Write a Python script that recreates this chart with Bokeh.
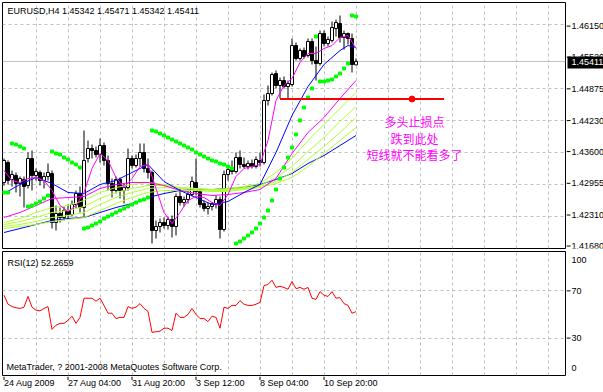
from bokeh.plotting import figure
from bokeh.layouts import column, row
from bokeh.models import Range1d, FixedTicker, Grid, Span, Label
from bokeh.core.properties import value
from bokeh.embed import file_html
from bokeh.resources import INLINE

FONT = "Liberation Sans"

# ---------------- data ----------------
bars = list(range(89))
opens = [1.4299, 1.4339, 1.4305, 1.4313, 1.4297, 1.4305, 1.4293, 1.4347, 1.4313, 1.4319,
         1.4303, 1.4311, 1.4317, 1.4219, 1.4237, 1.4229, 1.4243, 1.4235, 1.4255, 1.4277,
         1.4249, 1.4347, 1.4367, 1.4363, 1.4355, 1.4373, 1.4343, 1.4297, 1.4283, 1.4305,
         1.4283, 1.4289, 1.4347, 1.4333, 1.4347, 1.4359, 1.4327, 1.4319, 1.4203, 1.4211,
         1.4219, 1.4213, 1.4225, 1.4211, 1.4271, 1.4259, 1.4265, 1.4275, 1.4299, 1.4281,
         1.4257, 1.4247, 1.4251, 1.4255, 1.4265, 1.4205, 1.4315, 1.4327, 1.4321, 1.4349,
         1.4335, 1.4331, 1.4337, 1.4331, 1.4343, 1.4339, 1.4463, 1.4477, 1.4517, 1.4493,
         1.4503, 1.4491, 1.4495, 1.4573, 1.4547, 1.4563, 1.4553, 1.4581, 1.4543, 1.4537,
         1.4597, 1.4577, 1.4583, 1.4607, 1.4617, 1.4589, 1.4597, 1.4587, 1.45342]
highs = [1.4347, 1.4343, 1.4323, 1.4319, 1.4311, 1.4311, 1.4359, 1.4363, 1.4327, 1.4323,
         1.4319, 1.4337, 1.4323, 1.4253, 1.4249, 1.4251, 1.4255, 1.4263, 1.4283, 1.4291,
         1.4403, 1.4383, 1.4375, 1.4371, 1.4387, 1.4379, 1.4353, 1.4307, 1.4311, 1.4309,
         1.4297, 1.4367, 1.4353, 1.4355, 1.4377, 1.4377, 1.4347, 1.4323, 1.4223, 1.4227,
         1.4229, 1.4231, 1.4233, 1.4277, 1.4287, 1.4271, 1.4285, 1.4311, 1.4347, 1.4287,
         1.4263, 1.4259, 1.4259, 1.4273, 1.4271, 1.4323, 1.4333, 1.4343, 1.4359, 1.4363,
         1.4349, 1.4343, 1.4345, 1.4351, 1.4359, 1.4475, 1.4493, 1.4519, 1.4523, 1.4509,
         1.4511, 1.4503, 1.4587, 1.4579, 1.4567, 1.4569, 1.4587, 1.4587, 1.4571, 1.4603,
         1.4603, 1.4591, 1.4621, 1.4625, 1.4633, 1.4603, 1.4599, 1.4597, 1.45471]
lows = [1.4293, 1.4295, 1.4291, 1.4279, 1.4271, 1.4249, 1.4287, 1.4283, 1.4303, 1.4293,
        1.4287, 1.4303, 1.4207, 1.4203, 1.4219, 1.4223, 1.4227, 1.4231, 1.4247, 1.4239,
        1.4229, 1.4339, 1.4347, 1.4349, 1.4339, 1.4333, 1.4283, 1.4269, 1.4277, 1.4267,
        1.4257, 1.4283, 1.4327, 1.4329, 1.4331, 1.4319, 1.4307, 1.4177, 1.4187, 1.4199,
        1.4207, 1.4205, 1.4189, 1.4193, 1.4253, 1.4251, 1.4257, 1.4271, 1.4273, 1.4249,
        1.4241, 1.4235, 1.4243, 1.4247, 1.4187, 1.4201, 1.4303, 1.4315, 1.4317, 1.4327,
        1.4327, 1.4325, 1.4327, 1.4327, 1.4331, 1.4335, 1.4453, 1.4473, 1.4487, 1.4467,
        1.4487, 1.4467, 1.4491, 1.4543, 1.4543, 1.4547, 1.4549, 1.4535, 1.4503, 1.4533,
        1.4571, 1.4571, 1.4579, 1.4591, 1.4579, 1.4565, 1.4575, 1.4519, 1.45342]
closes = [1.4343, 1.4303, 1.4315, 1.4297, 1.4307, 1.4291, 1.4347, 1.4313, 1.4321, 1.4303,
          1.4311, 1.4319, 1.4219, 1.4237, 1.4229, 1.4243, 1.4235, 1.4255, 1.4277, 1.4249,
          1.4343, 1.4367, 1.4363, 1.4355, 1.4373, 1.4343, 1.4297, 1.4283, 1.4305, 1.4283,
          1.4289, 1.4347, 1.4333, 1.4347, 1.4359, 1.4327, 1.4319, 1.4203, 1.4211, 1.4219,
          1.4213, 1.4225, 1.4211, 1.4271, 1.4259, 1.4265, 1.4275, 1.4301, 1.4281, 1.4255,
          1.4247, 1.4251, 1.4257, 1.4265, 1.4205, 1.4315, 1.4325, 1.4321, 1.4349, 1.4335,
          1.4331, 1.4337, 1.4331, 1.4345, 1.4339, 1.4463, 1.4477, 1.4515, 1.4493, 1.4503,
          1.4491, 1.4497, 1.4573, 1.4547, 1.4563, 1.4551, 1.4581, 1.4543, 1.4537, 1.4597,
          1.4577, 1.4585, 1.4609, 1.4619, 1.4589, 1.4597, 1.4587, 1.4535, 1.45411]

# Parabolic SAR dots
sar = [1.4279, 1.4279, 1.4377, 1.4375, 1.4371, 1.4367, 1.4251, 1.4253, 1.4257, 1.4261,
       1.4267, 1.4273, 1.4361, 1.4357, 1.4355, 1.4349, 1.4345, 1.4339, 1.4335, 1.4329,
       1.4207, 1.4209, 1.4213, 1.4217, 1.4221, 1.4227, 1.4231, 1.4235, 1.4239, 1.4243,
       1.4247, 1.4251, 1.4255, 1.4259, 1.4263, 1.4265, 1.4269, 1.4403, 1.4401, 1.4397,
       1.4393, 1.4389, 1.4385, 1.4381, 1.4377, 1.4373, 1.4369, 1.4365, 1.4359, 1.4355,
       1.4351, 1.4347, 1.4343, 1.4341, 1.4337, 1.4335, 1.4331, 1.4327, 1.4177, 1.4181,
       1.4187, 1.4193, 1.4199, 1.4207, 1.4217, 1.4229, 1.4243, 1.4263, 1.4285, 1.4307,
       1.4329, 1.4349, 1.4369, 1.4395, 1.4423, 1.4449, 1.4469, 1.4487, 1.4591, 1.4501,
       1.4501, 1.4503, 1.4505, 1.4511, 1.4517, 1.4527, 1.4537, 1.4633, 1.4631]

# moving averages
ma_fast_bars = list(range(0, 89, 2))
ma_fast = [1.4323, 1.4303, 1.4299, 1.4307, 1.4309, 1.4303, 1.4283, 1.4253, 1.4241, 1.4253,
           1.4279, 1.4327, 1.4357, 1.4343, 1.4309, 1.4289, 1.4307, 1.4331, 1.4335, 1.4287,
           1.4239, 1.4217, 1.4239, 1.4263, 1.4271, 1.4269, 1.4259, 1.4253, 1.4275, 1.4311,
           1.4327, 1.4331, 1.4335, 1.4383, 1.4463, 1.4493, 1.4507, 1.4539, 1.4557, 1.4557,
           1.4567, 1.4573, 1.4589, 1.4593, 1.4567]

blue_fast_bars = [0, 4, 8, 12, 16, 20, 24, 28, 32, 36, 40, 44, 48, 52, 56, 60, 64, 68,
                  72, 76, 80, 84, 86, 88]
blue_fast = [1.4277, 1.4295, 1.4309, 1.4297, 1.4279, 1.4277, 1.4295, 1.4303, 1.4319, 1.4335,
             1.4301, 1.4283, 1.4269, 1.4255, 1.4261, 1.4279, 1.4295, 1.4359, 1.4433, 1.4491,
             1.4535, 1.4563, 1.4573, 1.4569]

slow_bars = list(range(0, 89, 4))
magenta_slow = [1.4229, 1.4239, 1.4253, 1.4267, 1.4269, 1.4271, 1.4287, 1.4295, 1.4299, 1.4299,
                1.4293, 1.4283, 1.4277, 1.4273, 1.4275, 1.4279, 1.4285, 1.4307, 1.4357, 1.4399,
                1.4429, 1.4467, 1.4503]
yellow_1 = [1.4219, 1.4227, 1.4239, 1.4249, 1.4253, 1.4263, 1.4279, 1.4289, 1.4295, 1.4299,
            1.4295, 1.4289, 1.4287, 1.4285, 1.4287, 1.4291, 1.4297, 1.4319, 1.4347, 1.4383,
            1.4415, 1.4447, 1.4479]
yellow_2 = [1.4215, 1.4221, 1.4229, 1.4239, 1.4243, 1.4251, 1.4267, 1.4279, 1.4287, 1.4293,
            1.4293, 1.4289, 1.4287, 1.4285, 1.4285, 1.4289, 1.4293, 1.4309, 1.4331, 1.4361,
            1.4389, 1.4421, 1.4451]
yellow_3 = [1.4211, 1.4215, 1.4221, 1.4229, 1.4233, 1.4239, 1.4255, 1.4269, 1.4279, 1.4287,
            1.4289, 1.4287, 1.4285, 1.4283, 1.4283, 1.4287, 1.4291, 1.4301, 1.4319, 1.4345,
            1.4371, 1.4399, 1.4429]
yellow_4 = [1.4207, 1.4211, 1.4215, 1.4221, 1.4225, 1.4229, 1.4243, 1.4257, 1.4269, 1.4279,
            1.4283, 1.4283, 1.4283, 1.4281, 1.4281, 1.4285, 1.4289, 1.4297, 1.4309, 1.4331,
            1.4357, 1.4383, 1.4409]
blue_slow = [1.4199, 1.4207, 1.4215, 1.4223, 1.4227, 1.4229, 1.4239, 1.4249, 1.4257, 1.4269,
             1.4277, 1.4283, 1.4285, 1.4285, 1.4287, 1.4289, 1.4295, 1.4305, 1.4317, 1.4337,
             1.4353, 1.4373, 1.4393]

# RSI(12)
rsi = [66, 58.5, 56.5, 55.5, 55, 56, 65, 56, 53.5, 53,
       55, 56.5, 37.5, 41, 42.5, 42.5, 45, 48.5, 42.5, 47.5,
       63.5, 63.5, 63.5, 61, 63.5, 57.5, 51, 51, 46.5, 47.5,
       47.5, 56.5, 55, 56, 59, 55, 52.5, 35, 35.5, 36,
       38.5, 38.5, 36.5, 51, 47.5, 47.5, 50, 55, 50, 46.5,
       46.5, 44, 48.5, 47.5, 38.5, 56, 55, 57.5, 57.5, 61.5,
       58.5, 57.5, 57.5, 58.5, 60, 74, 75, 78.5, 72.5, 73.5,
       72.5, 71, 77.5, 71.5, 72.5, 71, 72.5, 63.5, 62.5, 69,
       66, 65, 69, 63.5, 64, 59, 57.5, 51, 52.2659]

# stop-loss line and marker
stop_line_bars = [69, 110]
stop_price = 1.4466
stop_dot_bar = 102
bid_price = 1.45411
bid_label = "1.45411"

title_text = "EURUSD,H4  1.45342 1.45471 1.45342 1.45411"
rsi_title = "RSI(12) 52.2659"
copyright_text = "MetaTrader, ? 2001-2008 MetaQuotes Software Corp."
note_lines = ["多头止损点", "跌到此处", "短线就不能看多了"]
x_tick_bars = [0, 16, 32, 48, 64, 80]
x_tick_labels = ["24 Aug 2009", "27 Aug 04:00", "31 Aug 20:00", "3 Sep 12:00",
                 "8 Sep 04:00", "10 Sep 20:00"]
price_ticks = [1.41680, 1.42310, 1.42955, 1.43600, 1.44230, 1.44875, 1.45520, 1.46150]
price_tick_labels = ["1.41680", "1.42310", "1.42955", "1.43600", "1.44230", "1.44875",
                     "1.45520", "1.46150"]
price_grid = [1.42310, 1.42955, 1.43600, 1.44230, 1.44875, 1.46150]
rsi_levels = [30, 70]
grid_bars = list(range(8, 141, 8))

# ---------------- helpers ----------------
GRID_COLOR = "#C0C0C0"
X_RANGE = Range1d(-0.375, 140.375)


def base_fig(**kw):
    p = figure(toolbar_location=None, output_backend="svg",
               x_axis_location=None, y_axis_location=None, **kw)
    p.background_fill_color = "white"
    p.border_fill_color = "white"
    p.grid.visible = False
    return p


def add_grids(p, hticks):
    p.add_layout(Grid(dimension=0, ticker=FixedTicker(ticks=grid_bars),
                      grid_line_color=GRID_COLOR, grid_line_dash="3 3"))
    p.add_layout(Grid(dimension=1, ticker=FixedTicker(ticks=hticks),
                      grid_line_color=GRID_COLOR, grid_line_dash="3 3"))


TXT = dict(text_font=value(FONT), text_font_size=value("9px"), text_color="black")

# ---------------- main price panel ----------------
p1 = base_fig(width=566, height=250, x_range=X_RANGE, y_range=Range1d(1.4167, 1.4659),
              min_border_left=2, min_border_right=1, min_border_top=2, min_border_bottom=2)
p1.outline_line_color = "black"
add_grids(p1, price_grid)
p1.add_layout(Span(location=bid_price, dimension="width", line_color=GRID_COLOR,
                   line_width=1, level="underlay"))

tops = [max(o, c) for o, c in zip(opens, closes)]
bottoms = [min(o, c) for o, c in zip(opens, closes)]
fills = ["white" if c >= o else "black" for o, c in zip(opens, closes)]
p1.segment(x0=bars, y0=lows, x1=bars, y1=highs, line_color="black", line_width=1)
p1.vbar(x=bars, top=tops, bottom=bottoms, width=0.75, fill_color=fills,
        line_color="black", line_width=1)

for series, col in [(blue_slow, "#0000FF"), (yellow_4, "#ADFF2F"), (yellow_3, "#ADFF2F"),
                    (yellow_2, "#ADFF2F"), (yellow_1, "#ADFF2F"), (magenta_slow, "#FF00FF")]:
    p1.line(slow_bars, series, line_color=col, line_width=1)
p1.line(blue_fast_bars, blue_fast, line_color="#0000FF", line_width=1)
p1.line(ma_fast_bars, ma_fast, line_color="#FF00FF", line_width=1)

p1.scatter(bars, sar, marker="square", size=3, fill_color="#00FF00", line_color="#00FF00")

p1.line(stop_line_bars, [stop_price, stop_price], line_color="#FF0000", line_width=2)
p1.scatter([stop_dot_bar], [stop_price], marker="circle", size=6,
           fill_color="#FF0000", line_color="#FF0000")

p1.add_layout(Label(x=0.875, y=1.4642, text=title_text, text_font=FONT,
                    text_font_size="9px", text_color="black", text_baseline="middle",
                    text_align="left"))
for txt, yy in zip(note_lines, [1.4421, 1.4388, 1.4355]):
    p1.add_layout(Label(x=102.6, y=yy, text=txt, text_font="Noto Sans CJK SC",
                        text_font_size="12px", text_color="#FF00FF",
                        text_align="center", text_baseline="middle"))

# price scale (right of main panel), same 0.0002/px scale as the main panel
s1 = base_fig(width=37, height=250, x_range=Range1d(0, 37), y_range=Range1d(1.4163, 1.4663),
              min_border_left=0, min_border_right=0, min_border_top=0, min_border_bottom=0)
s1.outline_line_color = None
s1.segment(x0=0, y0=price_ticks, x1=4, y1=price_ticks, line_color="black", line_width=1)
s1.text(x=5, y=price_ticks, text=price_tick_labels, text_align="left",
        text_baseline="middle", **TXT)
s1.rect(x=19, y=bid_price, width=36, height=12, height_units="screen",
        fill_color="black", line_color=None)
s1.text(x=5, y=bid_price, text=[bid_label], text_align="left", text_baseline="middle",
        text_font=value(FONT), text_font_size=value("9px"), text_color="white")

# ---------------- RSI panel ----------------
p2 = base_fig(width=566, height=126, x_range=X_RANGE, y_range=Range1d(-1, 102.5),
              min_border_left=2, min_border_right=1, min_border_top=1, min_border_bottom=1)
p2.outline_line_color = "black"
add_grids(p2, rsi_levels)
p2.line(bars, rsi, line_color="#FF0000", line_width=1)
p2.add_layout(Label(x=0.875, y=93.3, text=rsi_title, text_font=FONT,
                    text_font_size="9px", text_color="black", text_baseline="middle"))
p2.add_layout(Label(x=0.625, y=6.25, text=copyright_text,
                    text_font=FONT, text_font_size="9px", text_color="black",
                    text_baseline="middle"))

# RSI scale (right of RSI panel), same 1.2 px/unit scale as the RSI panel
s2 = base_fig(width=37, height=126, x_range=Range1d(0, 37),
              y_range=Range1d(-1.6667, 103.3333),
              min_border_left=0, min_border_right=0, min_border_top=0, min_border_bottom=0)
s2.outline_line_color = None
s2.segment(x0=0, y0=rsi_levels, x1=4, y1=rsi_levels, line_color="black", line_width=1)
s2.text(x=5, y=[95.8, 70, 30, 5], text=["100", "70", "30", "0"], text_align="left",
        text_baseline="middle", **TXT)

# ---------------- time scale (below RSI panel) ----------------
p3 = base_fig(width=603, height=16, x_range=X_RANGE, y_range=Range1d(0, 16),
              min_border_left=2, min_border_right=38, min_border_top=0, min_border_bottom=0)
p3.outline_line_color = None
p3.segment(x0=x_tick_bars, y0=16, x1=x_tick_bars, y1=12.5, line_color="black", line_width=1)
p3.text(x=x_tick_bars, y=15, text=x_tick_labels, text_align="left", text_baseline="top", **TXT)

layout = column(row(p1, s1, spacing=0), row(p2, s2, spacing=0), p3, spacing=0)
open("out.html", "w").write(file_html(layout, INLINE))
